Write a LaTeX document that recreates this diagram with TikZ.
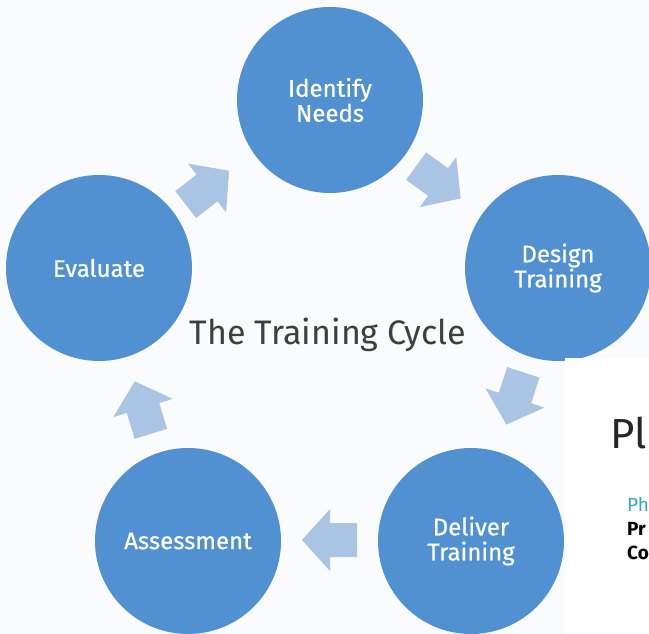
\documentclass[tikz,border=0pt]{standalone}
\usepackage{fontspec}
\setmainfont{Fira Sans}
\newfontfamily\stagefont[FakeBold=0.6]{Fira Sans}
\definecolor{cycleblue}{RGB}{81,145,210}
\definecolor{flowblue}{RGB}{170,196,228}
\definecolor{paper}{RGB}{250,251,252}
\definecolor{titlegrey}{RGB}{62,62,62}
\definecolor{slidecyan}{RGB}{52,170,200}

\begin{document}
\begin{tikzpicture}[x=1pt,y=1pt,
    stage/.style={circle,fill=cycleblue,minimum size=186pt,inner sep=0pt,
                  text=white,align=center,font=\stagefont\fontsize{24}{25}\selectfont},
    flow/.pic={\fill[flowblue] (-27,-17) -- (0,-17) -- (0,-31) -- (28,0)
                               -- (0,31) -- (0,17) -- (-27,17) -- cycle;},
    slide line/.style={anchor=base west,inner sep=0pt,font=\fontsize{19}{19}\selectfont}]

  \fill[paper] (0,0) rectangle (649,-634);
  \useasboundingbox (0,0) rectangle (649,-634);

  \node[stage] (needs)  at (330,-100) {Identify\\Needs};
  \node[stage] (design) at (558,-268) {Design\\Training};
  \node[stage] (deliver) at (471,-541) {Deliver\\Training};
  \node[stage] (assess) at (188,-541) {Assessment};
  \node[stage] (eval)   at (99,-268) {Evaluate};

  \node[anchor=base,text=titlegrey,font=\fontsize{34}{40}\selectfont] (title)
    at (328,-344) {The Training Cycle};

  % block arrows round the cycle
  \pic[rotate=38]   at (207,-188) {flow};
  \pic[rotate=-36]  at (438,-182) {flow};
  \pic[rotate=-108] at (515,-398) {flow};
  \pic[rotate=180]  at (330,-540) {flow};
  \pic[rotate=107]  at (143,-408) {flow};

  % piece of the next slide
  \fill[white] (565,-358) rectangle (649,-634);
  \node[anchor=base west,inner sep=0pt,text=black!85,font=\fontsize{42}{42}\selectfont] (slidehead)
    at (610,-448) {Pl};
  \node[slide line,text=slidecyan] (slideph) at (627,-511) {Ph};
  \node[slide line,font=\bfseries\fontsize{19}{19}\selectfont] (slidepr) at (627,-535) {Pr};
  \node[slide line,font=\bfseries\fontsize{19}{19}\selectfont] (slideco) at (627,-559) {Co};
\end{tikzpicture}
\end{document}
